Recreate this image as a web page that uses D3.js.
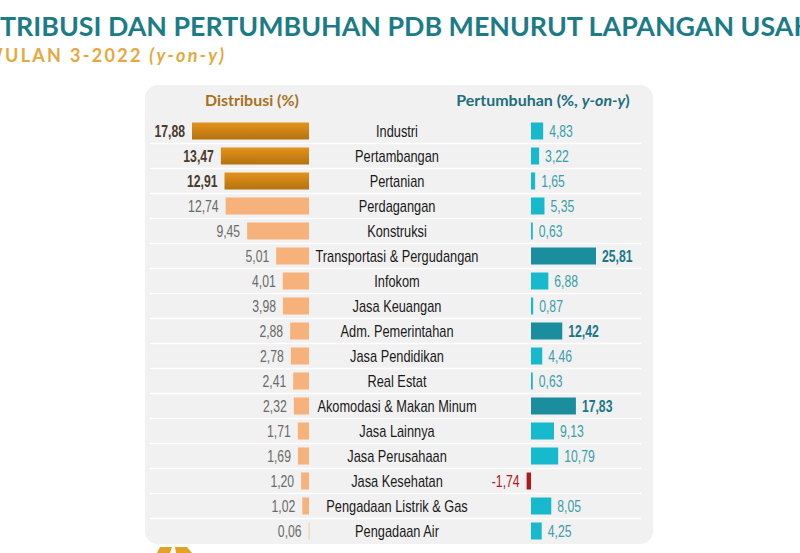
<!DOCTYPE html>
<html>
<head>
<meta charset="utf-8">
<script src="https://cdn.jsdelivr.net/npm/d3@7"></script>
<style>
  body { margin: 0; background: #fff; }
  svg { display: block; }
</style>
</head>
<body>
<div id="chart"></div>
<script>
// Data
const sectors = [
  "Industri", "Pertambangan", "Pertanian", "Perdagangan", "Konstruksi",
  "Transportasi & Pergudangan", "Infokom", "Jasa Keuangan", "Adm. Pemerintahan",
  "Jasa Pendidikan", "Real Estat", "Akomodasi & Makan Minum", "Jasa Lainnya",
  "Jasa Perusahaan", "Jasa Kesehatan", "Pengadaan Listrik & Gas", "Pengadaan Air"
];
const distribusi = [17.88, 13.47, 12.91, 12.74, 9.45, 5.01, 4.01, 3.98, 2.88, 2.78, 2.41, 2.32, 1.71, 1.69, 1.20, 1.02, 0.06];
const pertumbuhan = [4.83, 3.22, 1.65, 5.35, 0.63, 25.81, 6.88, 0.87, 12.42, 4.46, 0.63, 17.83, 9.13, 10.79, -1.74, 8.05, 4.25];
// top three sectors highlighted in each panel
const topDistribusi = ["Industri", "Pertambangan", "Pertanian"];
const topPertumbuhan = ["Transportasi & Pergudangan", "Akomodasi & Makan Minum", "Adm. Pemerintahan"];

const titleText = "DISTRIBUSI DAN PERTUMBUHAN PDB MENURUT LAPANGAN USAHA";
const subtitleText = "TRIWULAN 3-2022 ";

const W = 800, H = 553;
const fmt = v => d3.format(".2f")(v).replace(".", ",").replace("\u2212", "-");

const rows = sectors.map((s, i) => ({ name: s, dist: distribusi[i], growth: pertumbuhan[i] }));

const headFont = "Lato, 'Open Sans', sans-serif";
const bodyFont = "'Liberation Sans', Arial, sans-serif";
const NUM_SX = 0.74;   // the slide uses a condensed face
const CAT_SX = 0.8;

const svg = d3.select("#chart").append("svg")
  .attr("width", W)
  .attr("height", H);

// width of a string in a given font
function measure(str, family, size, weight, italic, spacing) {
  const t = svg.append("text")
    .attr("font-family", family).attr("font-size", size)
    .attr("font-weight", weight || 400)
    .attr("font-style", italic ? "italic" : "normal")
    .attr("letter-spacing", spacing || 0)
    .text(str);
  const w = t.node().getComputedTextLength();
  t.remove();
  return w;
}

const defs = svg.append("defs");
const grad = defs.append("linearGradient")
  .attr("id", "gold")
  .attr("x1", 0).attr("y1", 0).attr("x2", 0).attr("y2", 1);
grad.append("stop").attr("offset", "0%").attr("stop-color", "#e3931c");
grad.append("stop").attr("offset", "100%").attr("stop-color", "#b5720f");

// --- title (starts off the left edge, as in the original slide) ---
{
  const k = 794 / measure("TRIBUSI DAN PERTUMBUHAN PDB MENURUT LAPANGAN USA", headFont, 24, 700);
  const fs = 24 * k;
  svg.append("text")
    .attr("x", -measure("DIS", headFont, fs, 700))
    .attr("y", 36)
    .attr("font-family", headFont)
    .attr("font-weight", 700)
    .attr("font-size", fs)
    .attr("fill", "#1b7c88")
    .text(titleText);
}

{
  // the slide font is wide; keep size, widen a little with letter-spacing
  const fs = 18;
  const part = "ULAN 3-2022 ";
  const w0 = measure(part, headFont, fs, 700) + measure("(y-on-y)", headFont, fs, 700, true);
  const ls = Math.max(0, (217 - w0) / (part.length + 8));
  const sub = svg.append("text")
    .attr("x", 5 - measure("TRIW", headFont, fs, 700, false, ls))
    .attr("y", 62)
    .attr("font-family", headFont)
    .attr("font-weight", 700)
    .attr("font-size", fs)
    .attr("letter-spacing", ls)
    .attr("fill", "#e6a83c");
  sub.append("tspan").text(subtitleText);
  sub.append("tspan").attr("font-style", "italic").text("(y-on-y)");
}

// --- panel ---
svg.append("rect")
  .attr("x", 145).attr("y", 85)
  .attr("width", 508).attr("height", 459)
  .attr("rx", 13)
  .attr("fill", "#f1f1f1");

// --- scales ---
const y = d3.scaleBand()
  .domain(sectors)
  .range([118.5, 543.5])
  .paddingInner(0.32)
  .paddingOuter(0.16);

const xDist = d3.scaleLinear()
  .domain([0, 17.88])
  .range([309, 192]);

const xGrowth = d3.scaleLinear()
  .domain([0, 25.81])
  .range([531, 596]);

const cy = d => y(d.name) + y.bandwidth() / 2;

// separators
svg.append("g").selectAll("line")
  .data(sectors.slice(1))
  .join("line")
  .attr("x1", 150).attr("x2", 641)
  .attr("y1", d => y(d) - y.step() * y.paddingInner() / 2)
  .attr("y2", d => y(d) - y.step() * y.paddingInner() / 2)
  .attr("stroke", "#ffffff")
  .attr("stroke-width", 1.5);

// headers
{
  const fs = 14 * 94 / measure("Distribusi (%)", headFont, 14, 700);
  svg.append("text")
    .attr("x", 252).attr("y", 106)
    .attr("text-anchor", "middle")
    .attr("font-family", headFont)
    .attr("font-weight", 700)
    .attr("font-size", fs)
    .attr("fill", "#a8721f")
    .text("Distribusi (%)");

  const h2 = svg.append("text")
    .attr("x", 543).attr("y", 106)
    .attr("text-anchor", "middle")
    .attr("font-family", headFont)
    .attr("font-weight", 700)
    .attr("font-size", fs)
    .attr("fill", "#1d6f7b");
  h2.append("tspan").text("Pertumbuhan (%, ");
  h2.append("tspan").attr("font-style", "italic").text("y-on-y");
  h2.append("tspan").text(")");
}

// --- left: distribution bars ---
const gL = svg.append("g");
gL.selectAll("rect")
  .data(rows)
  .join("rect")
  .attr("x", d => xDist(d.dist))
  .attr("y", d => y(d.name))
  .attr("width", d => Math.max(1, xDist(0) - xDist(d.dist)))
  .attr("height", y.bandwidth())
  .attr("fill", d => topDistribusi.includes(d.name) ? "url(#gold)" : (d.dist < 0.5 ? "#f3c9a6" : "#f7b27c"));

gL.selectAll("text")
  .data(rows)
  .join("text")
  .attr("transform", d => `translate(${xDist(d.dist) - 7},${cy(d)}) scale(${NUM_SX},1)`)
  .attr("dy", "0.36em")
  .attr("text-anchor", "end")
  .attr("font-family", bodyFont)
  .attr("font-size", 16.5)
  .attr("font-weight", d => topDistribusi.includes(d.name) ? 700 : 400)
  .attr("fill", d => topDistribusi.includes(d.name) ? "#4a3b2c" : "#6a6a6a")
  .text(d => fmt(d.dist));

// --- middle: sector names ---
svg.append("g").selectAll("text")
  .data(rows)
  .join("text")
  .attr("transform", d => `translate(397,${cy(d)}) scale(${CAT_SX},1)`)
  .attr("dy", "0.36em")
  .attr("text-anchor", "middle")
  .attr("font-family", bodyFont)
  .attr("font-size", 16)
  .attr("fill", "#1a1a1a")
  .text(d => d.name);

// --- right: growth bars ---
const barW = d => Math.max(1.8, Math.abs(xGrowth(d.growth) - xGrowth(0)));
const gR = svg.append("g");
gR.selectAll("rect")
  .data(rows)
  .join("rect")
  .attr("x", d => d.growth < 0 ? xGrowth(d.growth) : xGrowth(0))
  .attr("y", d => y(d.name))
  .attr("width", barW)
  .attr("height", y.bandwidth())
  .attr("fill", d => d.growth < 0 ? "#b3161b" : (topPertumbuhan.includes(d.name) ? "#1a8e9e" : "#17b9cd"));

gR.selectAll("text")
  .data(rows)
  .join("text")
  .attr("transform", d => {
    const x = d.growth < 0 ? xGrowth(d.growth) - 7 : xGrowth(0) + barW(d) + 6;
    return `translate(${x},${cy(d)}) scale(${NUM_SX},1)`;
  })
  .attr("dy", "0.36em")
  .attr("text-anchor", d => d.growth < 0 ? "end" : "start")
  .attr("font-family", bodyFont)
  .attr("font-size", 16.5)
  .attr("font-weight", d => topPertumbuhan.includes(d.name) ? 700 : 400)
  .attr("fill", d => d.growth < 0 ? "#b3161b" : (topPertumbuhan.includes(d.name) ? "#1b7886" : "#3a9eab"))
  .text(d => fmt(d.growth));

// logo peeking at the bottom
svg.append("path").attr("d", "M157,553 L160,547 L172,547 L170,553 Z").attr("fill", "#e2a227");
svg.append("path").attr("d", "M176,553 L175,547 L187,547 L192,553 Z").attr("fill", "#e2a227");
</script>
</body>
</html>
